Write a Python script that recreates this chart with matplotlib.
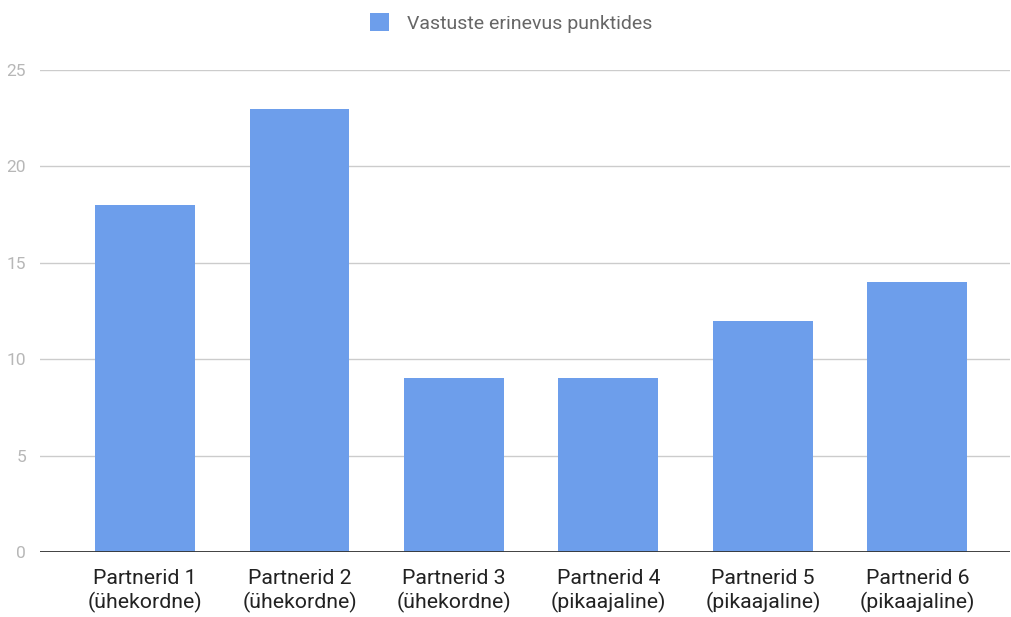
import matplotlib.pyplot as plt
from matplotlib.patches import Patch

plt.rcParams['font.family'] = ['Roboto', 'DejaVu Sans']

categories = ['Partnerid 1\n(ühekordne)', 'Partnerid 2\n(ühekordne)', 'Partnerid 3\n(ühekordne)',
              'Partnerid 4\n(pikaajaline)', 'Partnerid 5\n(pikaajaline)', 'Partnerid 6\n(pikaajaline)']
values = [18, 23, 9, 9, 12, 14]
series_name = 'Vastuste erinevus punktides'
yticks = [0, 5, 10, 15, 20, 25]

bar_color = '#6d9eeb'

fig = plt.figure(figsize=(10.11, 6.17), dpi=100)
ax = fig.add_axes([40 / 1011, 65 / 617, 970 / 1011, 482 / 617])

x = list(range(len(categories)))
ax.bar(x, values, width=0.647, color=bar_color, zorder=2)

ax.set_xlim(-0.68, 5.6)
ax.set_ylim(0, 25)
ax.set_yticks(yticks)
ax.set_yticklabels([str(t) for t in yticks], color='#b7b7b7', fontsize=12.5)
ax.set_xticks(x)
ax.set_xticklabels(categories, fontsize=15.3, color='#222222', linespacing=1.25)

ax.yaxis.grid(True, color='#cccccc', linewidth=1, zorder=0)
ax.axhline(0, color='#333333', linewidth=1.3, zorder=3)
ax.tick_params(axis='both', length=0)
ax.tick_params(axis='y', pad=10)
ax.tick_params(axis='x', pad=12)
for s in ax.spines.values():
    s.set_visible(False)

handle = Patch(facecolor=bar_color, edgecolor='none')
fig.legend([handle], [series_name], loc='center', bbox_to_anchor=(511 / 1011, 1 - 23 / 617),
           frameon=False, fontsize=14, labelcolor='#666666',
           handlelength=1.0, handleheight=1.0, handletextpad=0.9)

fig.savefig('out.png', dpi=100)
